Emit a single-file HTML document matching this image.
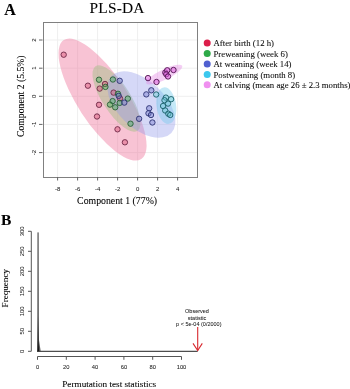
<!DOCTYPE html><html><head><meta charset="utf-8"><style>html,body{margin:0;padding:0;background:#fff;width:350px;height:389px;overflow:hidden}svg{display:block;will-change:transform;filter:blur(0.3px)} .s{stroke:#000;stroke-width:0.08px;stroke-linejoin:round} .k{stroke:#222;stroke-width:0.05px}</style></head><body>
<svg width="350" height="389" viewBox="0 0 350 389">
<text x="4.3" y="15" class="s" font-family="Liberation Serif" font-weight="bold" font-size="16" fill="#000">A</text>
<text x="117.1" y="13.2" text-anchor="middle" class="s" font-family="Liberation Serif" font-size="15.4" letter-spacing="0.2" fill="#000">PLS-DA</text>
<g stroke="#efefef" stroke-width="1"><line x1="57.6" y1="22.5" x2="57.6" y2="177" /><line x1="77.6" y1="22.5" x2="77.6" y2="177" /><line x1="97.6" y1="22.5" x2="97.6" y2="177" /><line x1="117.6" y1="22.5" x2="117.6" y2="177" /><line x1="137.6" y1="22.5" x2="137.6" y2="177" /><line x1="157.6" y1="22.5" x2="157.6" y2="177" /><line x1="177.6" y1="22.5" x2="177.6" y2="177" /><line x1="42.5" y1="40.0" x2="198" y2="40.0" /><line x1="42.5" y1="68.2" x2="198" y2="68.2" /><line x1="42.5" y1="96.3" x2="198" y2="96.3" /><line x1="42.5" y1="124.4" x2="198" y2="124.4" /><line x1="42.5" y1="152.6" x2="198" y2="152.6" /></g>
<ellipse cx="102.55" cy="99.55" rx="71" ry="24.9" transform="rotate(56.9 102.55 99.55)" fill="rgba(237,110,150,0.41)" />
<ellipse cx="116.5" cy="98.5" rx="38.5" ry="14" transform="rotate(57 116.5 98.5)" fill="rgba(165,192,138,0.5)" />
<ellipse cx="141.4" cy="104.5" rx="41.3" ry="23.5" transform="rotate(43.5 141.4 104.5)" fill="rgba(145,152,235,0.38)" />
<ellipse cx="166.3" cy="105.6" rx="18.4" ry="9.8" transform="rotate(82 166.3 105.6)" fill="rgba(110,200,235,0.40)" />
<ellipse cx="164.2" cy="74.6" rx="20" ry="5.2" transform="rotate(-25.9 164.2 74.6)" fill="rgba(225,125,225,0.38)" />
<circle cx="63.7" cy="54.7" r="2.7" fill="#d94970" fill-opacity="0.42" stroke="#6e2846" stroke-width="0.9" />
<circle cx="87.9" cy="85.7" r="2.7" fill="#d94970" fill-opacity="0.42" stroke="#6e2846" stroke-width="0.9" />
<circle cx="99.7" cy="88.6" r="2.7" fill="#d94970" fill-opacity="0.42" stroke="#6e2846" stroke-width="0.9" />
<circle cx="105" cy="84" r="2.7" fill="#d94970" fill-opacity="0.42" stroke="#6e2846" stroke-width="0.9" />
<circle cx="113.6" cy="92.6" r="2.7" fill="#d94970" fill-opacity="0.42" stroke="#6e2846" stroke-width="0.9" />
<circle cx="120" cy="98.4" r="2.7" fill="#d94970" fill-opacity="0.42" stroke="#6e2846" stroke-width="0.9" />
<circle cx="99" cy="104.8" r="2.7" fill="#d94970" fill-opacity="0.42" stroke="#6e2846" stroke-width="0.9" />
<circle cx="97" cy="116.5" r="2.7" fill="#d94970" fill-opacity="0.42" stroke="#6e2846" stroke-width="0.9" />
<circle cx="117.5" cy="129.3" r="2.7" fill="#d94970" fill-opacity="0.42" stroke="#6e2846" stroke-width="0.9" />
<circle cx="124.9" cy="142.3" r="2.7" fill="#d94970" fill-opacity="0.42" stroke="#6e2846" stroke-width="0.9" />
<circle cx="99" cy="79.7" r="2.7" fill="#43b458" fill-opacity="0.42" stroke="#285f37" stroke-width="0.9" />
<circle cx="105.4" cy="86.9" r="2.7" fill="#43b458" fill-opacity="0.42" stroke="#285f37" stroke-width="0.9" />
<circle cx="112.9" cy="79.5" r="2.7" fill="#43b458" fill-opacity="0.42" stroke="#285f37" stroke-width="0.9" />
<circle cx="118" cy="93.8" r="2.7" fill="#43b458" fill-opacity="0.42" stroke="#285f37" stroke-width="0.9" />
<circle cx="127.8" cy="98.6" r="2.7" fill="#43b458" fill-opacity="0.42" stroke="#285f37" stroke-width="0.9" />
<circle cx="112.6" cy="101.1" r="2.7" fill="#43b458" fill-opacity="0.42" stroke="#285f37" stroke-width="0.9" />
<circle cx="119.7" cy="102.9" r="2.7" fill="#43b458" fill-opacity="0.42" stroke="#285f37" stroke-width="0.9" />
<circle cx="110" cy="104.6" r="2.7" fill="#43b458" fill-opacity="0.42" stroke="#285f37" stroke-width="0.9" />
<circle cx="115.2" cy="107.3" r="2.7" fill="#43b458" fill-opacity="0.42" stroke="#285f37" stroke-width="0.9" />
<circle cx="130.5" cy="123.7" r="2.7" fill="#43b458" fill-opacity="0.42" stroke="#285f37" stroke-width="0.9" />
<circle cx="119.7" cy="80.8" r="2.7" fill="#7077ce" fill-opacity="0.42" stroke="#2d3273" stroke-width="0.9" />
<circle cx="118.7" cy="95.9" r="2.7" fill="#7077ce" fill-opacity="0.42" stroke="#2d3273" stroke-width="0.9" />
<circle cx="124.3" cy="102.6" r="2.7" fill="#7077ce" fill-opacity="0.42" stroke="#2d3273" stroke-width="0.9" />
<circle cx="146.3" cy="94.4" r="2.7" fill="#7077ce" fill-opacity="0.42" stroke="#2d3273" stroke-width="0.9" />
<circle cx="151.3" cy="90.3" r="2.7" fill="#7077ce" fill-opacity="0.42" stroke="#2d3273" stroke-width="0.9" />
<circle cx="149.2" cy="108.3" r="2.7" fill="#7077ce" fill-opacity="0.42" stroke="#2d3273" stroke-width="0.9" />
<circle cx="148.5" cy="113.3" r="2.7" fill="#7077ce" fill-opacity="0.42" stroke="#2d3273" stroke-width="0.9" />
<circle cx="151" cy="115" r="2.7" fill="#7077ce" fill-opacity="0.42" stroke="#2d3273" stroke-width="0.9" />
<circle cx="152.4" cy="122.5" r="2.7" fill="#7077ce" fill-opacity="0.42" stroke="#2d3273" stroke-width="0.9" />
<circle cx="139.1" cy="118.8" r="2.7" fill="#7077ce" fill-opacity="0.42" stroke="#2d3273" stroke-width="0.9" />
<circle cx="156.2" cy="94.5" r="2.7" fill="#6cccd6" fill-opacity="0.42" stroke="#195f69" stroke-width="0.9" />
<circle cx="165.9" cy="97.6" r="2.7" fill="#6cccd6" fill-opacity="0.42" stroke="#195f69" stroke-width="0.9" />
<circle cx="164.5" cy="100.2" r="2.7" fill="#6cccd6" fill-opacity="0.42" stroke="#195f69" stroke-width="0.9" />
<circle cx="171.1" cy="99.2" r="2.7" fill="#6cccd6" fill-opacity="0.42" stroke="#195f69" stroke-width="0.9" />
<circle cx="168" cy="103.6" r="2.7" fill="#6cccd6" fill-opacity="0.42" stroke="#195f69" stroke-width="0.9" />
<circle cx="163.1" cy="106" r="2.7" fill="#6cccd6" fill-opacity="0.42" stroke="#195f69" stroke-width="0.9" />
<circle cx="165.2" cy="110.5" r="2.7" fill="#6cccd6" fill-opacity="0.42" stroke="#195f69" stroke-width="0.9" />
<circle cx="168.3" cy="113.7" r="2.7" fill="#6cccd6" fill-opacity="0.42" stroke="#195f69" stroke-width="0.9" />
<circle cx="170.2" cy="115" r="2.7" fill="#6cccd6" fill-opacity="0.42" stroke="#195f69" stroke-width="0.9" />
<circle cx="148" cy="78.1" r="2.7" fill="#de64de" fill-opacity="0.55" stroke="#4e104e" stroke-width="0.9" />
<circle cx="156.5" cy="82" r="2.7" fill="#de64de" fill-opacity="0.55" stroke="#4e104e" stroke-width="0.9" />
<circle cx="165.3" cy="72.6" r="2.7" fill="#de64de" fill-opacity="0.55" stroke="#4e104e" stroke-width="0.9" />
<circle cx="167.2" cy="70.3" r="2.7" fill="#de64de" fill-opacity="0.55" stroke="#4e104e" stroke-width="0.9" />
<circle cx="166.3" cy="74.2" r="2.7" fill="#de64de" fill-opacity="0.55" stroke="#4e104e" stroke-width="0.9" />
<circle cx="168" cy="76.5" r="2.7" fill="#de64de" fill-opacity="0.55" stroke="#4e104e" stroke-width="0.9" />
<circle cx="173.5" cy="70" r="2.7" fill="#de64de" fill-opacity="0.55" stroke="#4e104e" stroke-width="0.9" />
<rect x="43.5" y="22.5" width="154" height="155" fill="none" stroke="#808080" stroke-width="1"/>
<g stroke="#666" stroke-width="1"><line x1="57.6" y1="177" x2="57.6" y2="180.5" /><line x1="77.6" y1="177" x2="77.6" y2="180.5" /><line x1="97.6" y1="177" x2="97.6" y2="180.5" /><line x1="117.6" y1="177" x2="117.6" y2="180.5" /><line x1="137.6" y1="177" x2="137.6" y2="180.5" /><line x1="157.6" y1="177" x2="157.6" y2="180.5" /><line x1="177.6" y1="177" x2="177.6" y2="180.5" /><line x1="39" y1="40.0" x2="42.5" y2="40.0" /><line x1="39" y1="68.2" x2="42.5" y2="68.2" /><line x1="39" y1="96.3" x2="42.5" y2="96.3" /><line x1="39" y1="124.4" x2="42.5" y2="124.4" /><line x1="39" y1="152.6" x2="42.5" y2="152.6" /></g>
<g class="k" font-family="Liberation Sans" font-size="6" fill="#222"><text x="57.6" y="191.2" text-anchor="middle">-8</text><text x="77.6" y="191.2" text-anchor="middle">-6</text><text x="97.6" y="191.2" text-anchor="middle">-4</text><text x="117.6" y="191.2" text-anchor="middle">-2</text><text x="137.6" y="191.2" text-anchor="middle">0</text><text x="157.6" y="191.2" text-anchor="middle">2</text><text x="177.6" y="191.2" text-anchor="middle">4</text><text transform="translate(35.5 40.0) rotate(-90)" text-anchor="middle">2</text><text transform="translate(35.5 68.2) rotate(-90)" text-anchor="middle">1</text><text transform="translate(35.5 96.3) rotate(-90)" text-anchor="middle">0</text><text transform="translate(35.5 124.4) rotate(-90)" text-anchor="middle">-1</text><text transform="translate(35.5 152.6) rotate(-90)" text-anchor="middle">-2</text></g>
<text x="117.1" y="204.2" text-anchor="middle" class="s" font-family="Liberation Serif" font-size="9.8" fill="#000">Component 1 (77%)</text>
<text transform="translate(24 96.2) rotate(-90)" text-anchor="middle" class="s" font-family="Liberation Serif" font-size="9.7" fill="#000">Component 2 (5.5%)</text>
<circle cx="207.2" cy="43.1" r="3.5" fill="#dc1e4a" />
<text x="213.5" y="46.3" class="s" font-family="Liberation Serif" font-size="8.75" fill="#111">After birth (12 h)</text>
<circle cx="207.2" cy="53.6" r="3.5" fill="#2eaa48" />
<text x="213.5" y="56.8" class="s" font-family="Liberation Serif" font-size="8.75" fill="#111">Preweaning (week 6)</text>
<circle cx="207.2" cy="64.1" r="3.5" fill="#5060d0" />
<text x="213.5" y="67.3" class="s" font-family="Liberation Serif" font-size="8.75" fill="#111">At weaning (week 14)</text>
<circle cx="207.2" cy="74.6" r="3.5" fill="#3cc8ee" />
<text x="213.5" y="77.8" class="s" font-family="Liberation Serif" font-size="8.75" fill="#111">Postweaning (month 8)</text>
<circle cx="207.2" cy="84.7" r="3.5" fill="#f090f0" />
<text x="213.5" y="87.9" class="s" font-family="Liberation Serif" font-size="8.75" fill="#111">At calving (mean age 26 ± 2.3 months)</text>
<text x="1" y="225" class="s" font-family="Liberation Serif" font-weight="bold" font-size="15.5" fill="#000">B</text>
<g stroke="#555" stroke-width="1"><line x1="31.3" y1="231.3" x2="31.3" y2="351.3" /><line x1="28" y1="231.3" x2="31.3" y2="231.3" /><line x1="28" y1="251.3" x2="31.3" y2="251.3" /><line x1="28" y1="271.3" x2="31.3" y2="271.3" /><line x1="28" y1="291.3" x2="31.3" y2="291.3" /><line x1="28" y1="311.3" x2="31.3" y2="311.3" /><line x1="28" y1="331.3" x2="31.3" y2="331.3" /><line x1="28" y1="351.3" x2="31.3" y2="351.3" /><line x1="37.5" y1="356.5" x2="37.5" y2="359.8" /><line x1="66.3" y1="356.5" x2="66.3" y2="359.8" /><line x1="95.1" y1="356.5" x2="95.1" y2="359.8" /><line x1="123.9" y1="356.5" x2="123.9" y2="359.8" /><line x1="152.7" y1="356.5" x2="152.7" y2="359.8" /><line x1="181.5" y1="356.5" x2="181.5" y2="359.8" /><line x1="37.5" y1="356.5" x2="181.5" y2="356.5" /></g>
<g class="k" font-family="Liberation Sans" font-size="5.8" fill="#222"><text transform="translate(24 231.3) rotate(-90)" text-anchor="middle">300</text><text transform="translate(24 251.3) rotate(-90)" text-anchor="middle">250</text><text transform="translate(24 271.3) rotate(-90)" text-anchor="middle">200</text><text transform="translate(24 291.3) rotate(-90)" text-anchor="middle">150</text><text transform="translate(24 311.3) rotate(-90)" text-anchor="middle">100</text><text transform="translate(24 331.3) rotate(-90)" text-anchor="middle">50</text><text transform="translate(24 351.3) rotate(-90)" text-anchor="middle">0</text><text x="37.5" y="369" text-anchor="middle">0</text><text x="66.3" y="369" text-anchor="middle">20</text><text x="95.1" y="369" text-anchor="middle">40</text><text x="123.9" y="369" text-anchor="middle">60</text><text x="152.7" y="369" text-anchor="middle">80</text><text x="181.5" y="369" text-anchor="middle">100</text></g>
<defs><linearGradient id="bg" x1="0" y1="0" x2="0" y2="1"><stop offset="0" stop-color="#8a8a8a"/><stop offset="0.7" stop-color="#707070"/><stop offset="0.9" stop-color="#3a3a3a"/><stop offset="1" stop-color="#111"/></linearGradient></defs><rect x="37.2" y="232.4" width="1.8" height="118.9" fill="url(#bg)" /><path d="M39.1 340 L39.1 351.3 L40.6 351.3 Z" fill="#444" />
<path d="M37 351.3 L197.7 351.3" stroke="#222" stroke-width="1" />

<text transform="translate(8.4 288.2) rotate(-90)" text-anchor="middle" class="s" font-family="Liberation Serif" font-size="9.1" fill="#000">Frequency</text>
<text x="109.2" y="386.8" text-anchor="middle" class="s" font-family="Liberation Serif" font-size="9.2" fill="#000">Permutation test statistics</text>
<g stroke="#d8282e" stroke-width="1.1" fill="none"><line x1="197.7" y1="327" x2="197.7" y2="350.5"/><polyline points="193,343.4 197.7,350.5 202.3,343.4"/></g>
<g class="k" font-family="Liberation Sans" font-size="5.5" fill="#222" text-anchor="middle"><text x="197" y="312.7">Observed</text><text x="197" y="319.5">statistic</text><text x="198.8" y="326.2">p &lt; 5e-04 (0/2000)</text></g>
</svg></body></html>
